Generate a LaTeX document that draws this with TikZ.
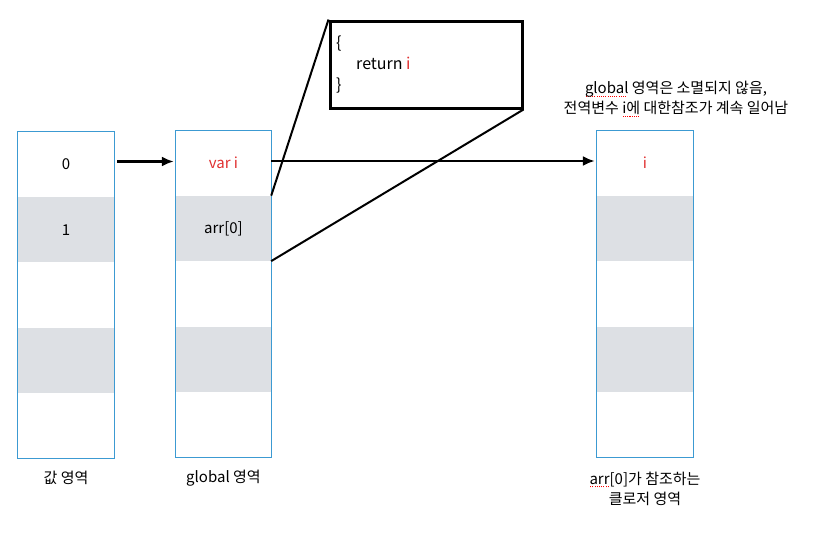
\documentclass[tikz,border=0pt]{standalone}
\usepackage{fontspec}
\setmainfont{Noto Sans CJK KR}
\usetikzlibrary{arrows.meta, positioning}

\definecolor{cellgray}{HTML}{DDE0E4}
\definecolor{frameblue}{HTML}{3C9AD2}
\definecolor{varred}{HTML}{E03030}

% spell-check marks under some words
\newsavebox{\markbox}
\newcommand{\spellmark}[1]{\sbox{\markbox}{#1}\rlap{\textcolor{red}{\raisebox{-3pt}{\hbox to \wd\markbox{\leaders\hbox to 2.2pt{\hss\rule{1.1pt}{1.1pt}\hss}\hfill}}}}\usebox{\markbox}}

\begin{document}
\begin{tikzpicture}[
    x=1pt, y=-1pt,
    node distance=0pt,
    font=\fontsize{15}{20}\selectfont,
    cell/.style={rectangle, minimum width=96pt, minimum height=65pt, inner sep=0pt},
    shaded/.style={cell, fill=cellgray},
    frame/.style={draw=frameblue, line width=1.2pt},
    arr/.style={-{Latex[length=12pt, width=10pt]}, line width=2.2pt},
    link/.style={line width=2pt},
    codebox/.style={rectangle, draw=black, line width=3pt, minimum width=192pt, minimum height=87pt, inner sep=0pt}
]
    \useasboundingbox (0,0) rectangle (835,539);

    % Value area
    \node[cell] (a1) at (66,164.5) {0};
    \node[shaded, below=of a1] (a2) {1};
    \node[cell, below=of a2] (a3) {};
    \node[shaded, below=of a3] (a4) {};
    \node[cell, below=of a4] (a5) {};
    \draw[frame] (a1.north west) rectangle (a5.south east);
    \node[below=9pt of a5] (alabel) {값 영역};

    % Global area
    \node[cell, minimum width=95pt, text=varred] (b1) at (223.5,163) {var i};
    \node[shaded, minimum width=95pt, below=of b1] (b2) {arr[0]};
    \node[cell, minimum width=95pt, below=of b2] (b3) {};
    \node[shaded, minimum width=95pt, below=of b3] (b4) {};
    \node[cell, minimum width=95pt, below=of b4] (b5) {};
    \draw[frame] (b1.north west) rectangle (b5.south east);
    \node[below=9pt of b5] (blabel) {global 영역};

    % Closure area
    \node[cell, text=varred] (c1) at (645,163) {i};
    \node[shaded, below=of c1] (c2) {};
    \node[cell, below=of c2] (c3) {};
    \node[shaded, below=of c3] (c4) {};
    \node[cell, below=of c4] (c5) {};
    \draw[frame] (c1.north west) rectangle (c5.south east);
    \node[below=11pt of c5, align=center] (clabel) {\spellmark{arr}[0]가 참조하는\\클로저 영역};

    % Note
    \node[align=center] (note) at (676,99) {\spellmark{global} 영역은 소멸되지 않음,\\전역변수 \spellmark{i에} 대한참조가 계속 일어남};

    % Function body
    \node[codebox] (code) at (426,64.5) {};
    \node[anchor=north west, align=left, inner sep=0pt, font=\fontsize{16}{21}\selectfont] (body) at (336,36)
        {\{\\\hspace{20pt}return \textcolor{varred}{i}\\\}};

    % Arrows
    \draw[arr, shorten <=3pt, shorten >=2pt] ([yshift=3pt]a1.east) -- ([yshift=3pt]a1.east -| b1.west);
    \draw[arr, shorten >=2pt] ([yshift=2pt]b1.east) -- ([yshift=2pt]b1.east -| c1.west);

    % Reference lines
    \draw[link] (b2.north east) -- (code.north west);
    \draw[link] (b3.north east) -- (code.south east);
\end{tikzpicture}
\end{document}
